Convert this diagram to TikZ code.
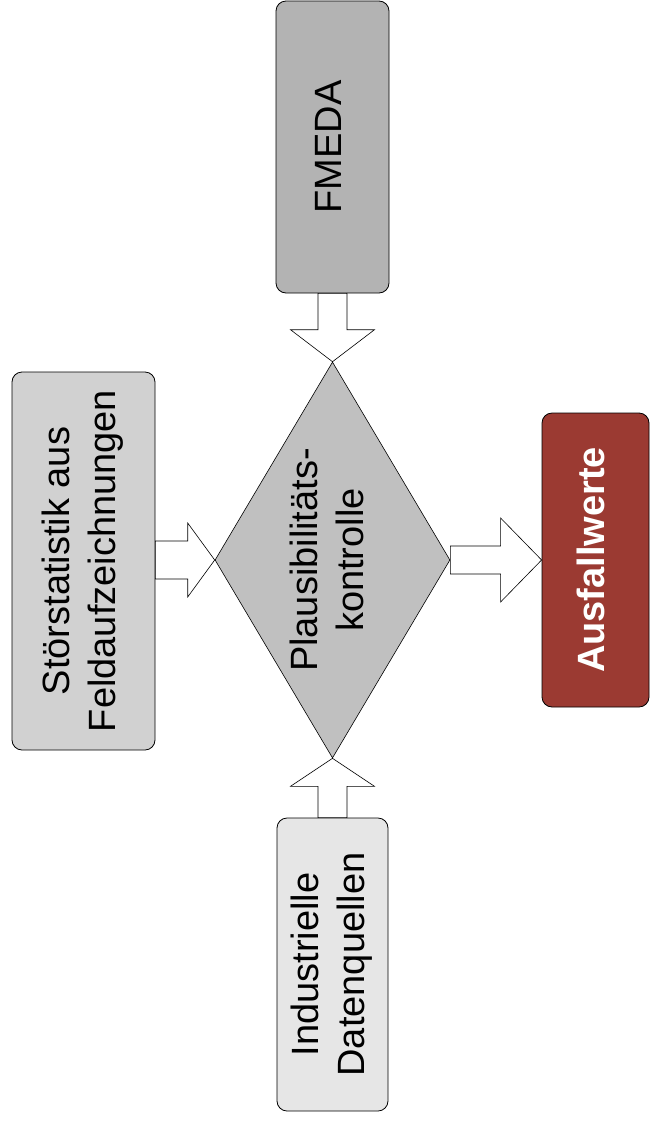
\documentclass[tikz,border=0pt]{standalone}
\usepackage{fontspec}
\setmainfont{Liberation Sans}
\usepackage{graphicx}
\usetikzlibrary{shapes.geometric,calc}
\definecolor{fmedafill}{HTML}{B3B3B3}
\definecolor{stoerfill}{HTML}{D1D1D1}
\definecolor{plausfill}{HTML}{C0C0C0}
\definecolor{ausfallfill}{HTML}{9B3A32}
\definecolor{indusfill}{HTML}{E6E6E6}
\newcommand{\vtext}[1]{\rotatebox{90}{\begin{tabular}{@{}c@{}}#1\end{tabular}}}
\tikzset{
  box/.style={draw=black, line width=0.8pt, rounded corners=10pt, inner sep=0pt,
    font=\fontsize{38}{46}\selectfont},
  decision/.style={diamond, draw=black, line width=0.6pt, fill=plausfill, inner sep=0pt},
  blockarrow/.style={draw=black, line width=0.6pt, fill=white, line join=miter},
  txt/.style={font=\fontsize{38}{46}\selectfont, inner sep=0pt}
}
\begin{document}
\begin{tikzpicture}[x=1pt,y=-1pt]
\useasboundingbox (0,0) rectangle (650,1122);
% boxes
\node[box, fill=fmedafill, minimum width=113pt, minimum height=292pt] (fmeda) at (332.5,147) {\vtext{FMEDA}};
\node[box, fill=stoerfill, minimum width=143pt, minimum height=378pt] (stoer) at (83.5,561) {\vtext{Störstatistik aus\\Feldaufzeichnungen}};
\node[box, fill=ausfallfill, text=white, minimum width=107pt, minimum height=294pt] (ausfall) at (595.5,560) {\vtext{\bfseries Ausfallwerte}};
\node[box, fill=indusfill, minimum width=111pt, minimum height=293pt] (indus) at (332.5,964.5) {\vtext{Industrielle\\Datenquellen}};
% decision
\node[decision, minimum width=235pt, minimum height=396pt] (plaus) at (332.5,560) {};
\node[txt] (plaustext) at ($(plaus.center)+(-1.5,0)$) {\vtext{Plausibilitäts-\\kontrolle}};
% block arrows
\draw[blockarrow] let \p1=(fmeda.south), \p2=(plaus.north) in
  (\x2-14.5pt,\y1) -- (\x2-14.5pt,\y2+32pt) -- (\x2-42pt,\y2+32pt) -- (\x2,\y2)
  -- (\x2+42pt,\y2+32pt) -- (\x2+14.5pt,\y2+32pt) -- (\x2+14.5pt,\y1) -- cycle;
\draw[blockarrow] let \p1=(indus.north), \p2=(plaus.south) in
  (\x2-14.5pt,\y1) -- (\x2-14.5pt,\y2-28pt) -- (\x2-42pt,\y2-28pt) -- (\x2,\y2)
  -- (\x2+42pt,\y2-28pt) -- (\x2+14.5pt,\y2-28pt) -- (\x2+14.5pt,\y1) -- cycle;
\draw[blockarrow] let \p1=(stoer.east), \p2=(plaus.west) in
  (\x1,\y2+19pt) -- (\x2-27pt,\y2+19pt) -- (\x2-27pt,\y2+37pt) -- (\x2,\y2)
  -- (\x2-27pt,\y2-37pt) -- (\x2-27pt,\y2-19pt) -- (\x1,\y2-19pt) -- cycle;
\draw[blockarrow] let \p1=(plaus.east), \p2=(ausfall.west) in
  (\x1,\y2+14pt) -- (\x2-41pt,\y2+14pt) -- (\x2-41pt,\y2+42pt) -- (\x2,\y2)
  -- (\x2-41pt,\y2-42pt) -- (\x2-41pt,\y2-14pt) -- (\x1,\y2-14pt) -- cycle;
\end{tikzpicture}
\end{document}
